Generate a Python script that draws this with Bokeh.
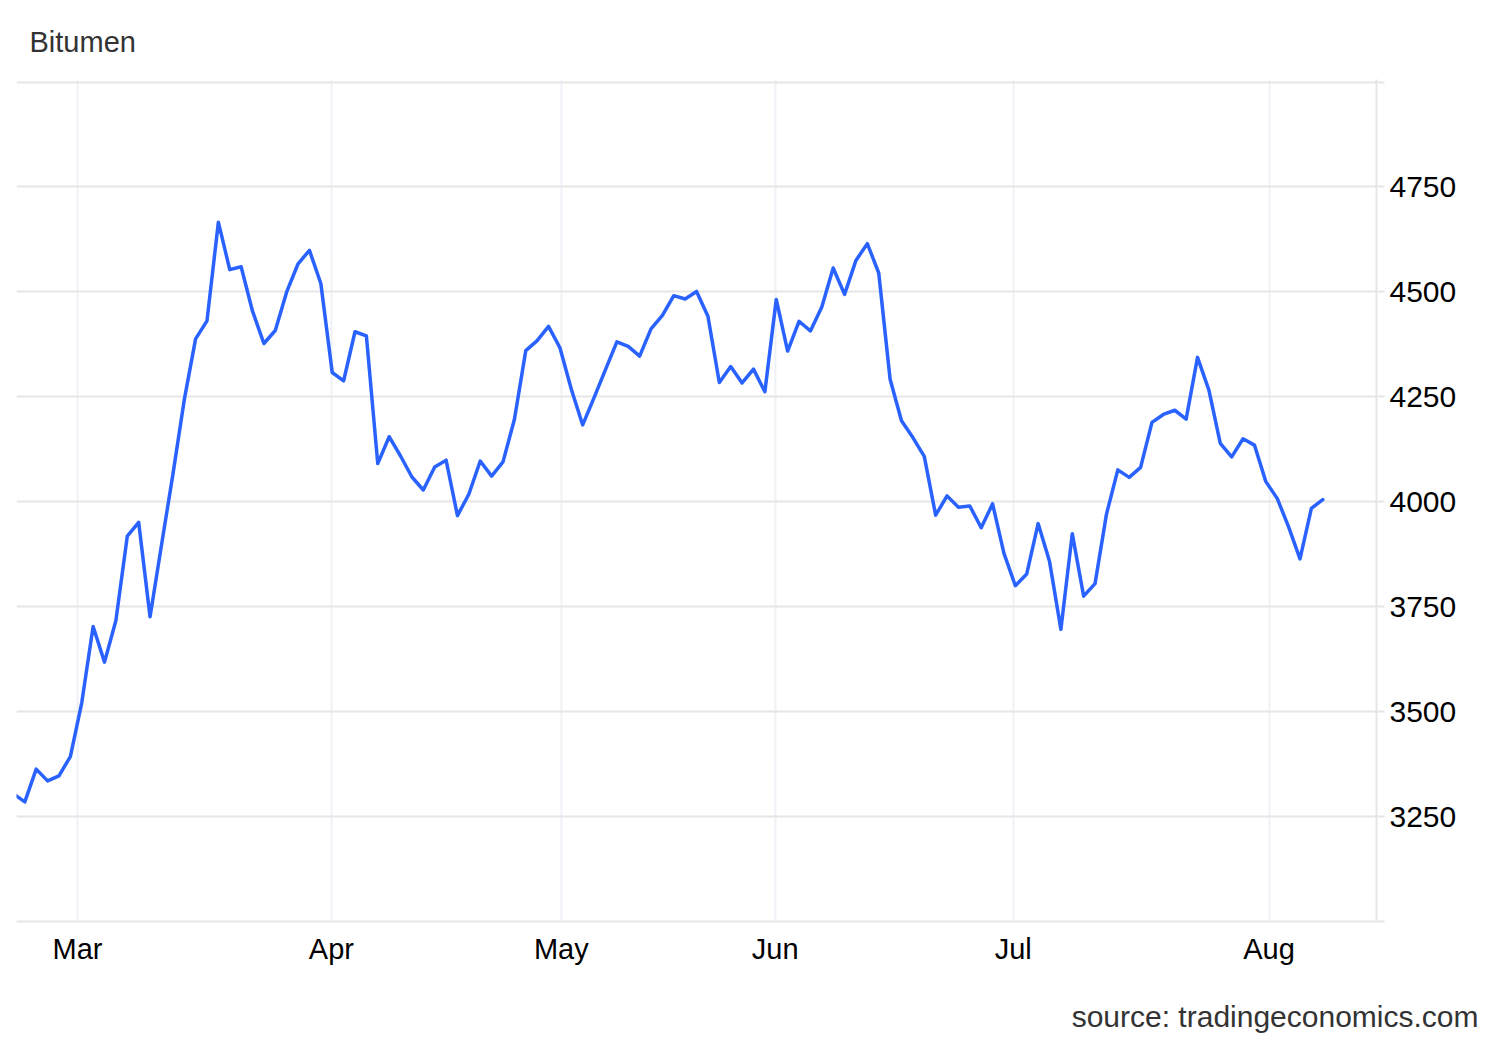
from bokeh.plotting import figure
from bokeh.models import Range1d, FixedTicker, Title, ColumnDataSource
from bokeh.layouts import column
from bokeh.embed import file_html
from bokeh.resources import INLINE

# ---- data ----
title_text = "Bitumen"
source_text = "source: tradingeconomics.com"

# trading-day index positions where the month labels fall (ordinal axis)
month_tick_pos = [5.63, 27.93, 48.12, 66.91, 87.81, 110.28]
month_labels = ["Mar", "Apr", "May", "Jun", "Jul", "Aug"]

y_ticks = [3000, 3250, 3500, 3750, 4000, 4250, 4500, 4750, 5000]

prices = [
    3304, 3285, 3363, 3335, 3347, 3393, 3521, 3703, 3618, 3717,
    3918, 3951, 3726, 3896, 4064, 4242, 4388, 4431, 4666, 4553,
    4560, 4454, 4377, 4408, 4500, 4567, 4599, 4520, 4308, 4288,
    4405, 4395, 4091, 4155, 4109, 4059, 4028, 4083, 4099, 3967,
    4018, 4097, 4061, 4095, 4196, 4360, 4384, 4418, 4367, 4268,
    4183, 4248, 4315, 4381, 4370, 4347, 4412, 4444, 4491, 4483,
    4501, 4442, 4284, 4322, 4283, 4316, 4262, 4482, 4359, 4430,
    4407, 4464, 4557, 4494, 4575, 4615, 4545, 4292, 4193, 4153,
    4108, 3968, 4014, 3987, 3990, 3938, 3995, 3877, 3800, 3828,
    3948, 3858, 3696, 3924, 3775, 3805, 3970, 4076, 4058, 4082,
    4189, 4208, 4218, 4197, 4344, 4266, 4139, 4107, 4150, 4135,
    4048, 4008, 3940, 3864, 3984, 4005,
]
idx = list(range(len(prices)))

FONT = "Liberation Sans"

p = figure(
    width=1492, height=971,
    output_backend="svg", toolbar_location=None,
    x_range=Range1d(0.27, 119.72), y_range=Range1d(3000, 5006),
    y_axis_location="right",
    min_border_left=16, min_border_right=116, min_border_top=79, min_border_bottom=50,
)
p.outline_line_color = None
p.background_fill_color = "white"
p.border_fill_color = "white"

src = ColumnDataSource(dict(x=idx, y=prices))
p.line("x", "y", source=src, line_color="#2962ff", line_width=3.5,
       line_join="round", line_cap="round")

# x axis
xa = p.xaxis[0]
xa.ticker = FixedTicker(ticks=month_tick_pos)
xa.major_label_overrides = {t: l for t, l in zip(month_tick_pos, month_labels)}
xa.axis_line_color = "#e6e6e6"
xa.axis_line_width = 2
xa.major_tick_line_color = None
xa.minor_tick_line_color = None
xa.major_tick_out = 0
xa.major_tick_in = 0
xa.major_label_standoff = 11
xa.major_label_text_font = FONT
xa.major_label_text_font_size = "29px"
xa.major_label_text_color = "#000000"

# y axis (right)
ya = p.yaxis[0]
ya.ticker = FixedTicker(ticks=y_ticks)
ya.major_label_overrides = {y_ticks[0]: "", y_ticks[-1]: ""}
ya.axis_line_color = "#e6e6e6"
ya.axis_line_width = 2
ya.major_tick_line_color = "#e6e6e6"
ya.major_tick_line_width = 2
ya.major_tick_out = 8
ya.major_tick_in = 0
ya.minor_tick_line_color = None
ya.major_label_standoff = 5
ya.major_label_text_font = FONT
ya.major_label_text_font_size = "30px"
ya.major_label_text_color = "#000000"

p.xgrid.ticker = FixedTicker(ticks=month_tick_pos)
p.xgrid.grid_line_color = "#eef1f6"
p.xgrid.grid_line_width = 2
p.ygrid.ticker = FixedTicker(ticks=y_ticks)
p.ygrid.grid_line_color = "#e6e6e6"
p.ygrid.grid_line_width = 2

p.add_layout(Title(text=title_text, align="left", offset=13, standoff=44,
                   text_font=FONT, text_font_size="29px", text_font_style="normal",
                   text_color="#333333"), "above")

# footer strip holding the source note (as a side-panel title, so it is not clipped)
foot = figure(width=1492, height=69, output_backend="svg", toolbar_location=None,
              x_axis_type=None, y_axis_type=None,
              x_range=Range1d(0, 1), y_range=Range1d(0, 1),
              min_border_left=16, min_border_right=116, min_border_top=61, min_border_bottom=0)
foot.outline_line_color = None
foot.background_fill_color = "white"
foot.border_fill_color = "white"
foot.grid.visible = False
foot.add_layout(Title(text=source_text, align="right", offset=-102, standoff=0,
                      text_font=FONT, text_font_size="30px", text_font_style="normal",
                      text_color="#333333"), "above")

layout = column(p, foot, spacing=0)
open("out.html", "w").write(file_html(layout, INLINE))
